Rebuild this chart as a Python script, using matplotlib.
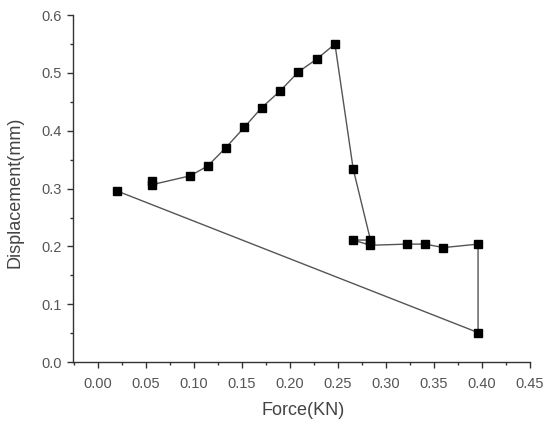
import matplotlib
matplotlib.use("Agg")
import matplotlib.pyplot as plt
from matplotlib.ticker import MultipleLocator

force = [0.057, 0.057, 0.096, 0.1145, 0.1335, 0.1526, 0.1707, 0.190, 0.209, 0.228, 0.247,
         0.266, 0.284, 0.266, 0.284, 0.3216, 0.341, 0.360, 0.396, 0.396, 0.020]
displacement = [0.313, 0.307, 0.322, 0.339, 0.371, 0.406, 0.440, 0.469, 0.502, 0.524, 0.550,
                0.334, 0.211, 0.211, 0.202, 0.204, 0.204, 0.198, 0.204, 0.051, 0.296]
x_ticks = [0.00, 0.05, 0.10, 0.15, 0.20, 0.25, 0.30, 0.35, 0.40, 0.45]
y_ticks = [0.0, 0.1, 0.2, 0.3, 0.4, 0.5, 0.6]

plt.rcParams['font.family'] = ['Liberation Sans', 'DejaVu Sans']

fig = plt.figure(figsize=(5.52, 4.21), dpi=100)
ax = fig.add_axes([0.1328, 0.140, 0.8272, 0.824])

ax.plot(force, displacement, color='#555555', linewidth=1.0, marker='s',
        markersize=6.3, markerfacecolor='black', markeredgecolor='black')

ax.set_xlim(-0.0254, 0.45)
ax.set_ylim(0.0, 0.6)
ax.set_xticks(x_ticks)
ax.set_yticks(y_ticks)
ax.set_xticklabels([f"{t:.2f}" for t in x_ticks])
ax.set_yticklabels([f"{t:.1f}" for t in y_ticks])
ax.xaxis.set_minor_locator(MultipleLocator(0.025))
ax.yaxis.set_minor_locator(MultipleLocator(0.05))

for s in ['top', 'right']:
    ax.spines[s].set_visible(False)
for s in ['left', 'bottom']:
    ax.spines[s].set_color('#333333')
    ax.spines[s].set_linewidth(1.0)

ax.tick_params(axis='both', which='major', direction='out', length=4, width=1,
               colors='#333333', labelsize=10.5, labelcolor='#555555')
ax.tick_params(axis='both', which='minor', direction='out', length=2.5, width=1,
               colors='#333333')
ax.tick_params(axis='x', pad=7)
ax.tick_params(axis='y', pad=4)

ax.set_xlabel('Force(KN)', fontsize=13, color='#444444')
ax.set_ylabel('Displacement(mm)', fontsize=13, color='#444444')
ax.xaxis.set_label_coords(0.503, -0.115)
ax.yaxis.set_label_coords(-0.11, 0.49)

fig.savefig('out.png', dpi=100, facecolor='white')
